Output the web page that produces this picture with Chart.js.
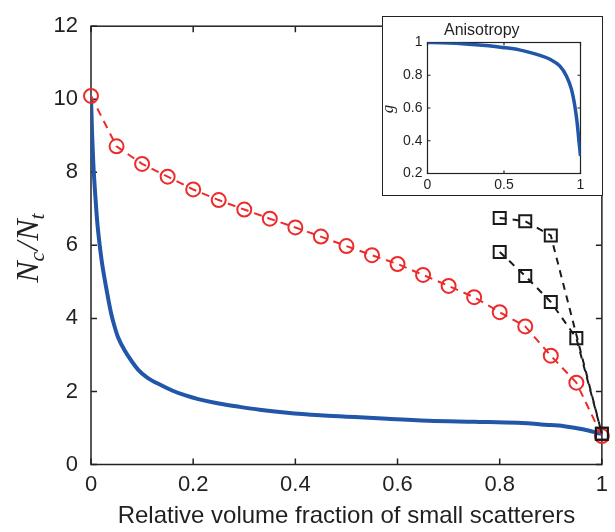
<!DOCTYPE html>
<html>
<head>
<meta charset="utf-8">
<script src="https://cdn.jsdelivr.net/npm/chart.js@4.4.1/dist/chart.umd.min.js"></script>
<style>
  body { margin: 0; background: #fff; }
  #wrap { position: relative; width: 615px; height: 532px; }
  #main { position: absolute; left: 0; top: 0; }
  #insetBox { position: absolute; left: 382px; top: 16px; width: 219px; height: 178px;
              border: 1.5px solid #222; background: #fff; }
</style>
</head>
<body>
<div id="wrap">
  <canvas id="main" width="615" height="532"></canvas>
  <div id="insetBox"><canvas id="inset" width="219" height="178"></canvas></div>
</div>
<script>
// main curve (blue)
const blueX = [0, 0.002, 0.0045, 0.008, 0.011, 0.0142, 0.0207, 0.024, 0.0337, 0.04, 0.0467, 0.0525, 0.066,
  0.08, 0.092, 0.11, 0.1375, 0.16, 0.185, 0.21, 0.25, 0.29, 0.33, 0.384, 0.449, 0.5, 0.58, 0.66, 0.75,
  0.835, 0.89, 0.926, 0.965, 0.99, 1];
const blueY = [10.07, 9.1, 8.25, 7.45, 6.85, 6.35, 5.6, 5.3, 4.54, 4.1, 3.75, 3.5, 3.12,
  2.82, 2.6, 2.38, 2.17, 2.02, 1.89, 1.79, 1.67, 1.58, 1.5, 1.42, 1.35, 1.31, 1.25, 1.2, 1.17,
  1.14, 1.09, 1.05, 0.96, 0.87, 0.83];

// red circles
const redX = [0, 0.05, 0.1, 0.15, 0.2, 0.25, 0.3, 0.35, 0.4, 0.45, 0.5, 0.55, 0.6, 0.65, 0.7, 0.75,
  0.8, 0.85, 0.9, 0.95, 1];
const redY = [10.09, 8.71, 8.23, 7.88, 7.53, 7.24, 6.98, 6.73, 6.49, 6.24, 5.98, 5.73, 5.49, 5.19, 4.89, 4.58,
  4.17, 3.78, 2.98, 2.24, 0.78];

// black squares
const sqUpperX = [0.8, 0.85, 0.9, 1];
const sqUpperY = [6.75, 6.66, 6.27, 0.84];
const sqLowerX = [0.8, 0.85, 0.9, 0.95, 1];
const sqLowerY = [5.82, 5.16, 4.45, 3.46, 0.84];

// inset: anisotropy g
const gX = [0, 0.1, 0.27, 0.4, 0.49, 0.6, 0.667, 0.74, 0.8, 0.864, 0.908, 0.941, 0.963, 0.978, 0.991, 1];
const gY = [1, 0.998, 0.99, 0.98, 0.97, 0.955, 0.94, 0.92, 0.898, 0.857, 0.796, 0.714, 0.612, 0.51, 0.388, 0.306];

const TEXT = "#231f20";
const BLUE = "#2256a8";
const RED = "#ec2b2b";
const BLACK = "#1a1a1a";

const pts = (xs, ys) => xs.map((x, i) => ({ x: x, y: ys[i] }));
const fmt = v => String(Math.round(v * 100) / 100);

// box around the plot with ticks pointing inward on all four sides
const boxTicks = {
  id: "boxTicks",
  beforeDatasetsDraw(chart, args, opts) {
    const { ctx, chartArea: a, scales: { x, y } } = chart;
    ctx.save();
    ctx.strokeStyle = opts.color;
    ctx.lineWidth = opts.width;
    ctx.beginPath();
    x.ticks.forEach(t => {
      const px = x.getPixelForValue(t.value);
      ctx.moveTo(px, a.bottom); ctx.lineTo(px, a.bottom - opts.len);
      ctx.moveTo(px, a.top); ctx.lineTo(px, a.top + opts.len);
    });
    y.ticks.forEach(t => {
      const py = y.getPixelForValue(t.value);
      ctx.moveTo(a.left, py); ctx.lineTo(a.left + opts.len, py);
      ctx.moveTo(a.right, py); ctx.lineTo(a.right - opts.len, py);
    });
    ctx.stroke();
    ctx.strokeRect(a.left, a.top, a.right - a.left, a.bottom - a.top);
    ctx.restore();
  }
};

// rotated y label with subscripts
const yLabel = {
  id: "yLabel",
  afterDraw(chart, args, opts) {
    const ctx = chart.ctx;
    ctx.save();
    ctx.fillStyle = TEXT;
    ctx.translate(opts.x, opts.y);
    ctx.rotate(-Math.PI / 2);
    let w = 0;
    opts.parts.forEach(p => { ctx.font = p.font; w += ctx.measureText(p.text).width + (p.gap || 0); });
    let cx = -w / 2;
    ctx.textBaseline = "alphabetic";
    opts.parts.forEach(p => {
      ctx.font = p.font;
      ctx.fillText(p.text, cx, p.dy);
      cx += ctx.measureText(p.text).width + (p.gap || 0);
    });
    ctx.restore();
  }
};

const big = "italic 32px 'Liberation Serif'";
const small = "italic 22px 'Liberation Serif'";

new Chart(document.getElementById("main"), {
  type: "line",
  data: {
    datasets: [
      {
        data: pts(blueX, blueY), borderColor: BLUE, borderWidth: 4, pointRadius: 0,
        cubicInterpolationMode: "monotone", order: 3
      },
      {
        data: pts(redX, redY), borderColor: RED, borderWidth: 2, borderDash: [8, 6],
        pointStyle: "circle", pointRadius: 7, pointBorderWidth: 2, pointBorderColor: RED,
        pointBackgroundColor: "rgba(0,0,0,0)", clip: 12, order: 2
      },
      {
        data: pts(sqUpperX, sqUpperY), borderColor: BLACK, borderWidth: 2, borderDash: [7, 6],
        pointStyle: "rect", pointRadius: 8.5, pointBorderWidth: 2, pointBorderColor: BLACK,
        pointBackgroundColor: "rgba(0,0,0,0)", clip: 12, order: 1
      },
      {
        data: pts(sqLowerX, sqLowerY), borderColor: BLACK, borderWidth: 2, borderDash: [7, 6],
        pointStyle: "rect", pointRadius: 8.5, pointBorderWidth: 2, pointBorderColor: BLACK,
        pointBackgroundColor: "rgba(0,0,0,0)", clip: 12, order: 1
      }
    ]
  },
  options: {
    responsive: false,
    animation: false,
    events: [],
    layout: { padding: { top: 12, right: 10, left: 0, bottom: 0 } },
    plugins: {
      legend: { display: false },
      tooltip: { enabled: false },
      boxTicks: { color: "#222", width: 1.5, len: 6 },
      yLabel: {
        x: 38, y: 248,
        parts: [
          { text: "N", font: big, dy: 0 },
          { text: "c", font: small, dy: 6, gap: 1 },
          { text: "/", font: big, dy: 0, gap: 1 },
          { text: "N", font: big, dy: 0 },
          { text: "t", font: small, dy: 6 }
        ]
      }
    },
    scales: {
      x: {
        type: "linear", min: 0, max: 1,
        grid: { display: false, drawTicks: false },
        border: { display: false },
        ticks: { stepSize: 0.2, color: TEXT, padding: 7, callback: fmt,
                 font: { family: "'Liberation Sans'", size: 22 } },
        title: {
          display: true, text: "Relative volume fraction of small scatterers", color: TEXT,
          font: { family: "'Liberation Sans'", size: 24 }, padding: { top: 0, bottom: 1.6 }
        },
        afterFit: s => { s.height = 67.5; }
      },
      y: {
        type: "linear", min: 0, max: 12,
        grid: { display: false, drawTicks: false },
        border: { display: false },
        ticks: { stepSize: 2, color: TEXT, padding: 13, callback: fmt,
                 font: { family: "'Liberation Sans'", size: 22 } },
        afterFit: s => { s.width = 91; }
      }
    }
  },
  plugins: [boxTicks, yLabel]
});

new Chart(document.getElementById("inset"), {
  type: "line",
  data: {
    datasets: [{
      data: pts(gX, gY), borderColor: BLUE, borderWidth: 3.5, pointRadius: 0,
      cubicInterpolationMode: "monotone"
    }]
  },
  options: {
    responsive: false,
    animation: false,
    events: [],
    layout: { padding: { top: 0, right: 21.5, left: 0, bottom: 0 } },
    plugins: {
      legend: { display: false },
      tooltip: { enabled: false },
      title: {
        display: true, text: "Anisotropy", color: TEXT,
        font: { family: "'Liberation Sans'", size: 16, weight: "normal" },
        padding: { top: 4, bottom: 2.3 }
      },
      boxTicks: { color: "#222", width: 1.2, len: 3 },
      yLabel: { x: 10, y: 92, parts: [{ text: "g", font: "italic 17px 'Liberation Serif'", dy: 0 }] }
    },
    scales: {
      x: {
        type: "linear", min: 0, max: 1,
        grid: { display: false, drawTicks: false },
        border: { display: false },
        ticks: { stepSize: 0.5, color: TEXT, padding: 3, callback: fmt,
                 font: { family: "'Liberation Sans'", size: 14 } },
        afterFit: s => { s.height = 21.5; }
      },
      y: {
        type: "linear", min: 0.2, max: 1,
        grid: { display: false, drawTicks: false },
        border: { display: false },
        ticks: { stepSize: 0.2, color: TEXT, padding: 5, callback: fmt,
                 font: { family: "'Liberation Sans'", size: 14 } },
        afterFit: s => { s.width = 44.5; }
      }
    }
  },
  plugins: [boxTicks, yLabel]
});
</script>
</body>
</html>
